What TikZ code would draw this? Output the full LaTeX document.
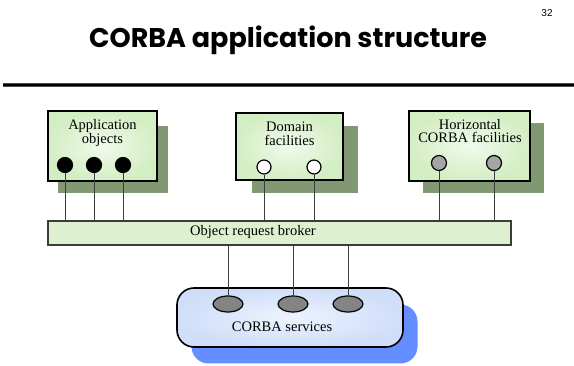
\documentclass[tikz,border=0pt]{standalone}
\usepackage{fontspec}
\setmainfont{Liberation Serif}
\newfontfamily\titlefont{Poppins}
\newfontfamily\numfont{Liberation Sans}
\usepackage{tikz, xcolor}
\usetikzlibrary{shapes,arrows}

\definecolor{boxgreen}{RGB}{212,238,196}
\definecolor{boxlight}{RGB}{240,250,235}
\definecolor{shadegreen}{RGB}{128,153,114}
\definecolor{srvblue}{RGB}{208,222,250}
\definecolor{srvlight}{RGB}{238,243,254}
\definecolor{shadeblue}{RGB}{100,141,255}
\definecolor{dotgrey}{RGB}{165,165,165}
\definecolor{linegrey}{RGB}{60,60,60}

\begin{document}
\begin{tikzpicture}[x=1pt, y=-1pt]
\tikzstyle{boxr}=[rectangle, draw=black, line width=1.6pt, inner sep=0pt, shading=radial, inner color=boxlight, outer color=boxgreen]
\tikzstyle{shadowr}=[rectangle, fill=shadegreen, inner sep=0pt]
\tikzstyle{labelr}=[align=center, font=\fontsize{14.5}{13.5}\selectfont, inner sep=0pt]
\tikzstyle{dotc}=[circle, draw=black, line width=1.2pt, minimum size=15pt, inner sep=0pt]
\tikzstyle{dote}=[ellipse, draw=black, line width=1.2pt, fill=dotgrey!80!black, minimum width=30pt, minimum height=16pt, inner sep=0pt]
\tikzstyle{drawstyle}=[line width=0.9pt, draw=linegrey]

\useasboundingbox (0,0) rectangle (574,366);

\node[font=\numfont\fontsize{10}{10}\selectfont] (Num) at (547,13) {32};
\node[font=\titlefont\bfseries\fontsize{27}{27}\selectfont] (Title) at (288,40) {CORBA application structure};
\draw[line width=4pt, draw=black!70] (3,85) -- (574,85);
\draw[line width=1.5pt, draw=black] (3,85) -- (574,85);

\node[shadowr, minimum width=110pt, minimum height=67pt] (S0) at (113,159.5) {};
\node[boxr, minimum width=109pt, minimum height=70pt] (B0) at (102.5,146) {};
\node[labelr] (T0) at (102.5,133) {Application\\objects};
\node[dotc, fill=black] (D0x0) at (65,165) {};
\node[dotc, fill=black] (D0x1) at (94,165) {};
\node[dotc, fill=black] (D0x2) at (123,165) {};

\node[shadowr, minimum width=106pt, minimum height=67pt] (S1) at (305,159.5) {};
\node[boxr, minimum width=107pt, minimum height=67pt] (B1) at (289.5,146.5) {};
\node[labelr] (T1) at (289.5,134) {Domain\\facilities};
\node[dotc, fill=white, minimum size=14pt] (D1x0) at (264,167) {};
\node[dotc, fill=white, minimum size=14pt] (D1x1) at (314,167) {};

\node[shadowr, minimum width=121pt, minimum height=70pt] (S2) at (483.5,158) {};
\node[boxr, minimum width=121pt, minimum height=70pt] (B2) at (469.5,146) {};
\node[labelr] (T2) at (470,131) {Horizontal\\CORBA facilities};
\node[dotc, fill=dotgrey] (D2x0) at (439,163) {};
\node[dotc, fill=dotgrey] (D2x1) at (494,163) {};

\node[rectangle, draw=linegrey, line width=1.3pt, fill=boxgreen!80!white, minimum width=463pt, minimum height=24pt, inner sep=0pt] (Orb) at (279.5,233) {};
\node[labelr] (OrbT) at (253,232) {Object request broker};

\node[rectangle, rounded corners=17pt, fill=shadeblue, minimum width=226pt, minimum height=59pt, inner sep=0pt] (SrvS) at (304.5,334) {};
\node[rectangle, rounded corners=17pt, draw=black, line width=1.6pt, shading=radial, inner color=srvlight, outer color=srvblue, minimum width=226pt, minimum height=59pt, inner sep=0pt] (Srv) at (290,317.5) {};
\node[labelr] (SrvT) at (282,327) {CORBA services};
\node[dote] (E0) at (228,304) {};
\node[dote] (E1) at (293,304) {};
\node[dote] (E2) at (348,304) {};

\draw[drawstyle] (D0x0.south) -- (D0x0.south |- Orb.north);
\draw[drawstyle] (D0x1.south) -- (D0x1.south |- Orb.north);
\draw[drawstyle] (D0x2.south) -- (D0x2.south |- Orb.north);
\draw[drawstyle] (D1x0.south) -- (D1x0.south |- Orb.north);
\draw[drawstyle] (D1x1.south) -- (D1x1.south |- Orb.north);
\draw[drawstyle] (D2x0.south) -- (D2x0.south |- Orb.north);
\draw[drawstyle] (D2x1.south) -- (D2x1.south |- Orb.north);
\draw[drawstyle] (E0.north |- Orb.south) -- (E0.north);
\draw[drawstyle] (E1.north |- Orb.south) -- (E1.north);
\draw[drawstyle] (E2.north |- Orb.south) -- (E2.north);
\end{tikzpicture}
\end{document}
